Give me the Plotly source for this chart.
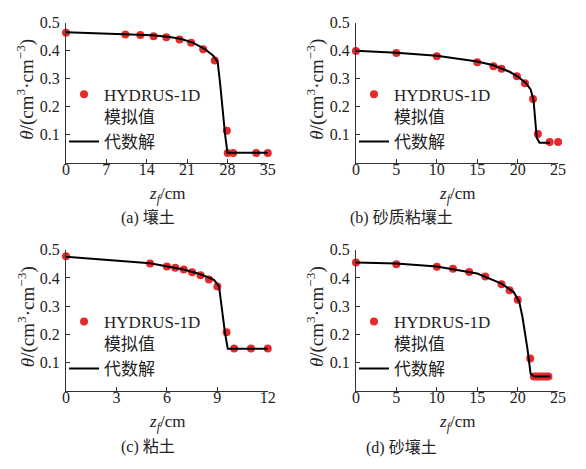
import plotly.graph_objects as go

# ---------------- data ----------------
# (a) 壤土
a_pts_z = [0, 10.3, 12.9, 15.2, 17.4, 19.7, 21.7, 23.8, 25.8, 27.9, 28.05, 29.0, 33.0, 35.0]
a_pts_t = [0.464, 0.458, 0.456, 0.452, 0.448, 0.440, 0.429, 0.405, 0.365, 0.114, 0.035, 0.035, 0.035, 0.035]
a_line_z = [0, 5, 10, 15, 18, 20, 22, 24, 25.5, 26.3, 26.7, 27.2, 27.6, 28.0, 35]
a_line_t = [0.466, 0.463, 0.460, 0.455, 0.449, 0.442, 0.429, 0.407, 0.383, 0.360, 0.29, 0.18, 0.10, 0.036, 0.036]

# (b) 砂质粘壤土
b_pts_z = [0, 5, 10, 15, 17, 18, 19.9, 20.9, 21.9, 22.5, 23.95, 25.0]
b_pts_t = [0.399, 0.392, 0.380, 0.359, 0.345, 0.336, 0.309, 0.284, 0.228, 0.103, 0.074, 0.074]
b_line_z = [0, 5, 10, 15, 17, 19, 20, 21, 21.6, 21.95, 22.15, 22.35, 22.7, 24.0]
b_line_t = [0.400, 0.393, 0.382, 0.362, 0.348, 0.325, 0.308, 0.285, 0.262, 0.225, 0.16, 0.09, 0.072, 0.072]

# (c) 粘土
c_pts_z = [0, 5.0, 6.0, 6.5, 7.0, 7.5, 8.0, 8.5, 9.0, 9.55, 10.0, 11.0, 12.0]
c_pts_t = [0.477, 0.451, 0.441, 0.436, 0.430, 0.420, 0.410, 0.395, 0.370, 0.207, 0.150, 0.150, 0.150]
c_line_z = [0, 5, 7, 8, 8.8, 9.1, 9.25, 9.45, 9.62, 12]
c_line_t = [0.475, 0.452, 0.430, 0.413, 0.393, 0.370, 0.300, 0.207, 0.149, 0.149]

# (d) 砂壤土
d_pts_z = [0, 5, 10, 12, 14, 16, 18, 19, 20, 21.55, 22.0, 22.3, 22.6, 22.9, 23.2, 23.5, 23.8]
d_pts_t = [0.455, 0.449, 0.440, 0.433, 0.421, 0.405, 0.378, 0.356, 0.323, 0.114, 0.05, 0.05, 0.05, 0.05, 0.05, 0.05, 0.05]
d_line_z = [0, 5, 10, 15, 18, 19.5, 20.2, 20.6, 21.2, 21.6, 22.0, 24.0]
d_line_t = [0.455, 0.451, 0.441, 0.416, 0.380, 0.350, 0.315, 0.260, 0.150, 0.060, 0.050, 0.050]

captions = ["(a) 壤土", "(b) 砂质粘壤土", "(c) 粘土", "(d) 砂壤土"]
x_ranges = [[0, 35], [0, 25], [0, 12], [0, 25]]
x_ticks = [[0, 7, 14, 21, 28, 35], [0, 5, 10, 15, 20, 25], [0, 3, 6, 9, 12], [0, 5, 10, 15, 20, 25]]
y_ticks = [0.1, 0.2, 0.3, 0.4, 0.5]

W, H = 586, 469
FONT = "Liberation Serif, Noto Sans CJK SC, serif"
RED = "#e8292c"
AX = "#333333"
TXT = "#222222"

# panel pixel boxes: (left, right, top, bottom)
boxes = [(63.3, 269.3, 15, 157.5), (359.3, 565.7, 15, 157.5),
         (63.3, 269.3, 246, 389.3), (359.3, 565.7, 246, 389.3)]

data = [(a_pts_z, a_pts_t, a_line_z, a_line_t), (b_pts_z, b_pts_t, b_line_z, b_line_t),
        (c_pts_z, c_pts_t, c_line_z, c_line_t), (d_pts_z, d_pts_t, d_line_z, d_line_t)]

fig = go.Figure()
layout = dict(width=W, height=H, margin=dict(l=0, r=0, t=0, b=0),
              paper_bgcolor="white", plot_bgcolor="white",
              font=dict(family=FONT, size=15, color=TXT), annotations=[])

for i, (pz, pt, lz, lt) in enumerate(data):
    n = "" if i == 0 else str(i + 1)
    lg = "legend" + n
    fig.add_trace(go.Scatter(x=pz, y=pt, mode="markers", name="HYDRUS-1D<br>模拟值",
                             marker=dict(color=RED, size=8), cliponaxis=False,
                             xaxis="x" + n, yaxis="y" + n, legend=lg))
    fig.add_trace(go.Scatter(x=lz, y=lt, mode="lines", name="代数解",
                             line=dict(color="black", width=2), cliponaxis=False,
                             xaxis="x" + n, yaxis="y" + n, legend=lg))
    l, r, t, b = boxes[i]
    common = dict(showgrid=False, zeroline=False, showline=True, linecolor=AX, linewidth=1.2,
                  ticks="inside", ticklen=4, tickwidth=1.2, tickcolor=AX,
                  tickfont=dict(family=FONT, size=16, color=TXT))
    layout["xaxis" + n] = dict(domain=[l / W, r / W], range=x_ranges[i], tickvals=x_ticks[i],
                               anchor="y" + n, ticklabelstandoff=-8, **common)
    layout["yaxis" + n] = dict(domain=[1 - b / H, 1 - t / H], range=[0, 0.5], tickvals=y_ticks,
                               tickformat=".1f", anchor="x" + n, ticklabelstandoff=2, **common)
    layout[lg] = dict(x=(l - 2) / W, y=1 - (t + 55) / H, xanchor="left", yanchor="top",
                      bgcolor="rgba(0,0,0,0)", font=dict(family=FONT, size=17, color=TXT),
                      tracegroupgap=0, valign="top")
    # axis titles
    layout["annotations"].append(dict(text="<i>z</i><sub><i>f</i></sub>/cm", xref="paper", yref="paper",
                                      x=(l + r) / 2 / W, y=1 - (b + 33) / H, xanchor="center",
                                      yanchor="middle", showarrow=False,
                                      font=dict(family=FONT, size=17, color=TXT)))
    layout["annotations"].append(dict(text="<i>θ</i>/(cm<sup>3</sup>·cm<sup>−3</sup>)", xref="paper", yref="paper",
                                      x=(l - 41) / W, y=1 - ((t + b) / 2 - 4) / H, textangle=-90,
                                      xanchor="center", yanchor="middle", showarrow=False,
                                      font=dict(family=FONT, size=19, color=TXT)))
    cx = 147 if i % 2 == 0 else 406
    cy = 213 if i < 2 else 447
    layout["annotations"].append(dict(text=captions[i], xref="paper", yref="paper",
                                      x=cx / W, y=1 - cy / H, xanchor="center", yanchor="middle",
                                      showarrow=False, font=dict(family=FONT, size=16, color=TXT)))

fig.update_layout(**layout)
fig.write_html("out.html")
